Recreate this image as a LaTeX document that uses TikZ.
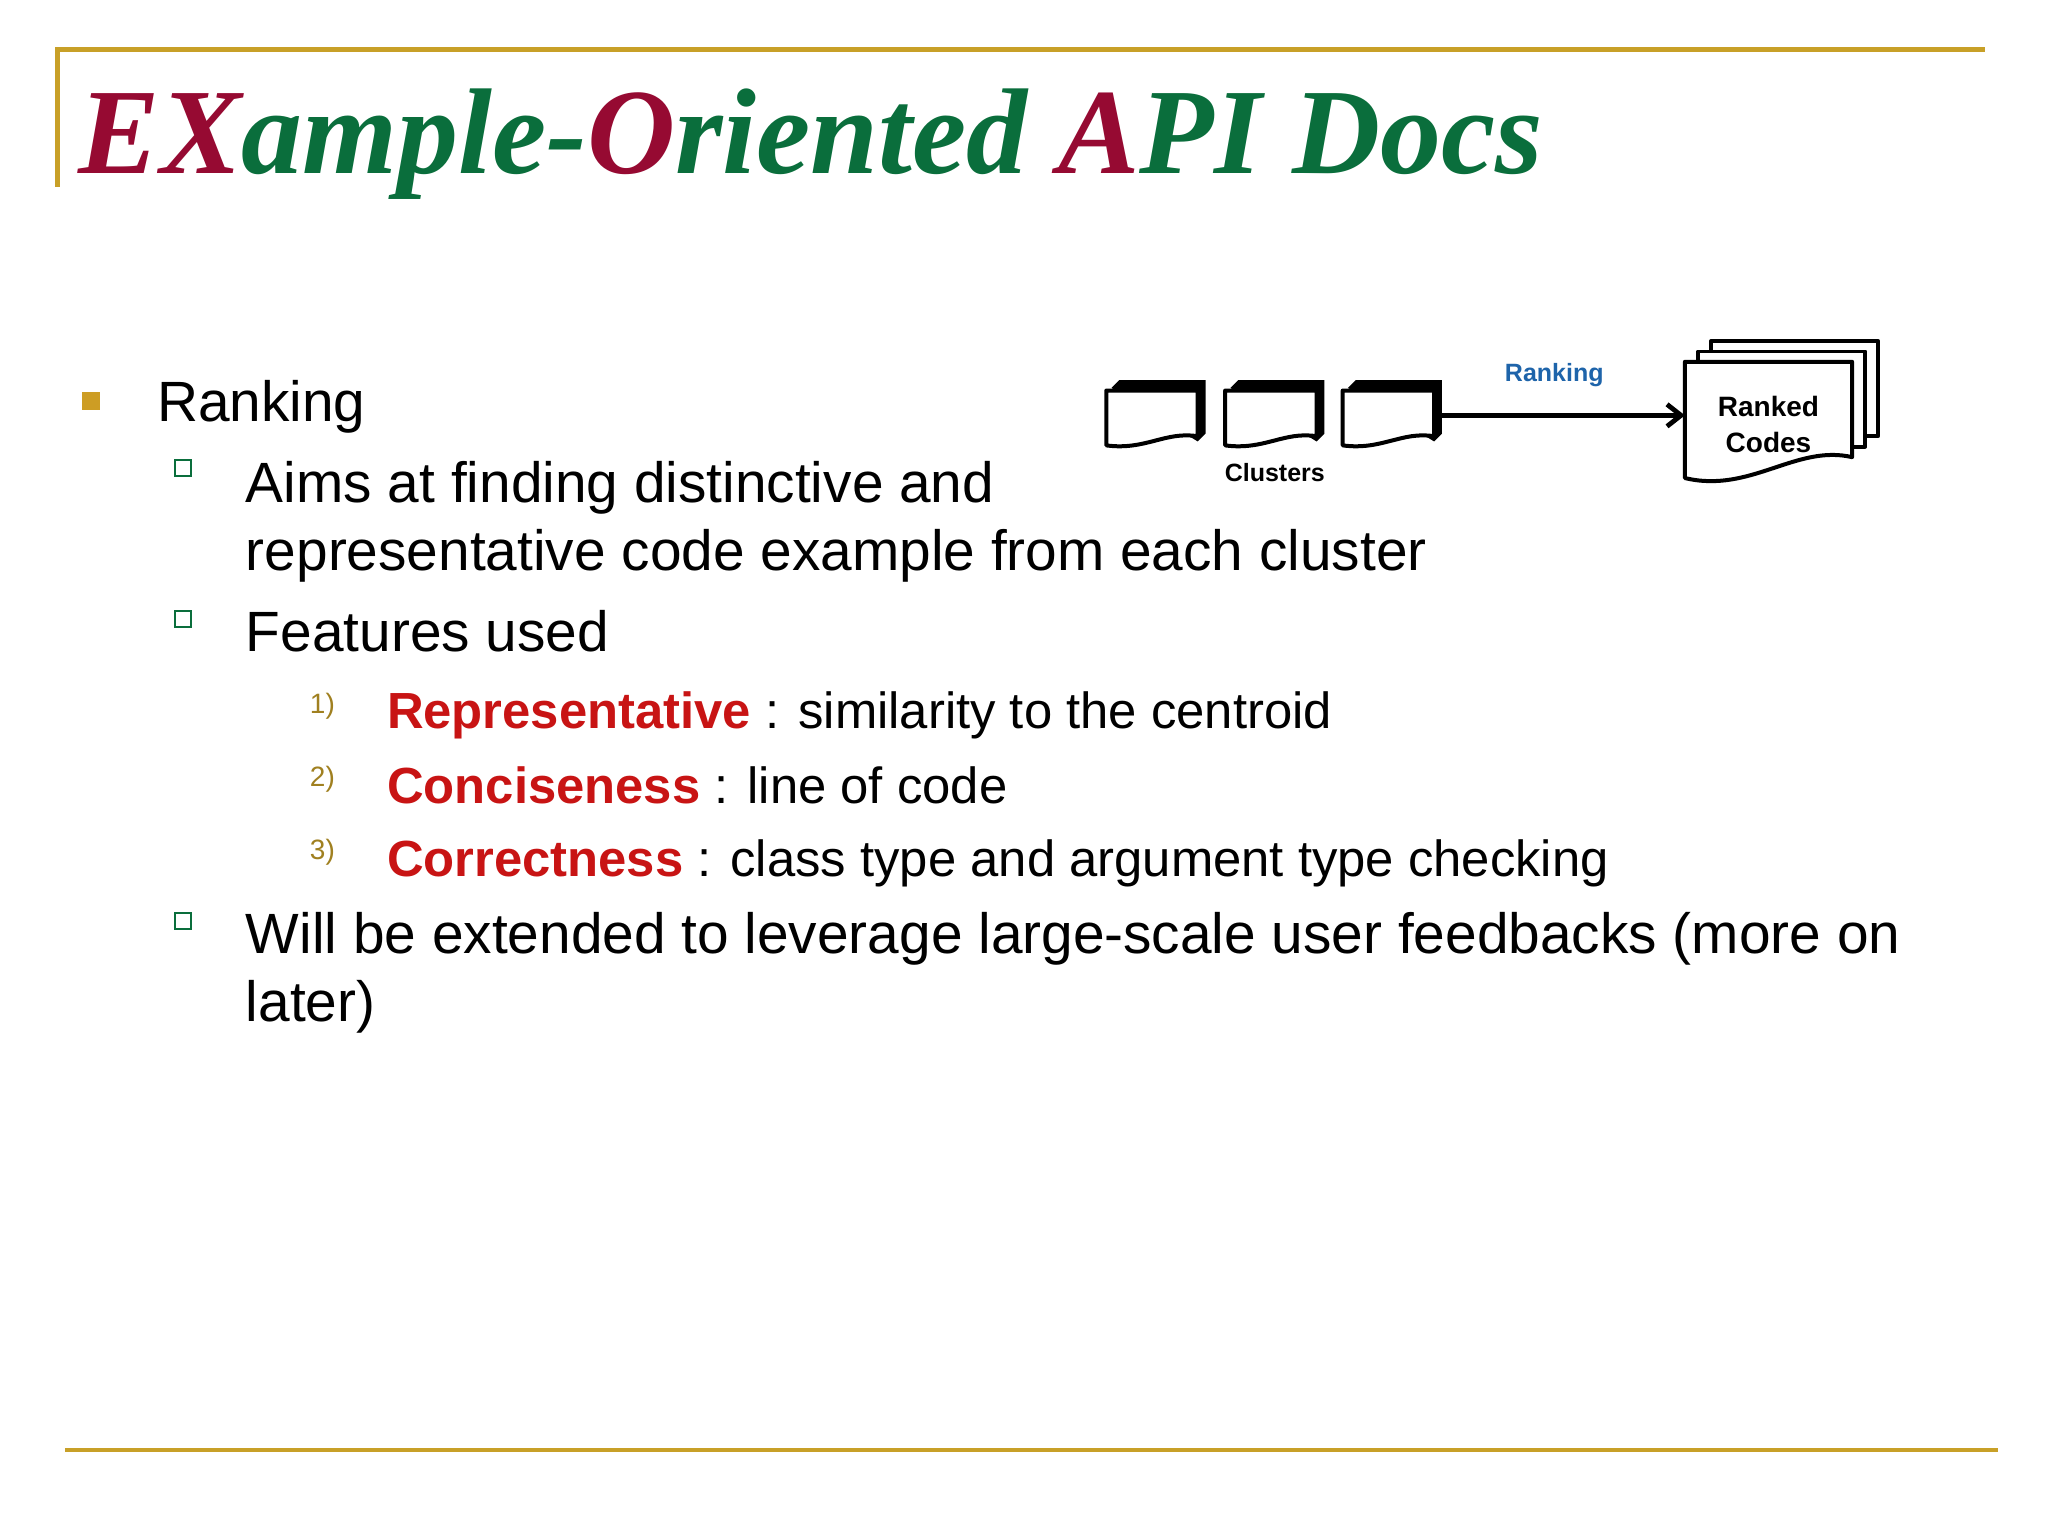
\documentclass[tikz,border=0pt]{standalone}
\usepackage{fontspec}
\setmainfont{Liberation Sans}
\newfontfamily\ttl{Liberation Serif}
\usetikzlibrary{arrows.meta}
\definecolor{gold}{RGB}{200,160,40}
\definecolor{wine}{RGB}{150,10,50}
\definecolor{dgreen}{RGB}{10,110,60}
\definecolor{fred}{RGB}{200,20,20}
\definecolor{rblue}{RGB}{30,100,170}
\begin{document}
\begin{tikzpicture}[x=0.653pt,y=-0.653pt,
  txt/.style={anchor=base west,inner sep=0,font=\fontsize{28.4}{31}\selectfont},
  ftxt/.style={anchor=base west,inner sep=0,font=\fontsize{25.4}{28}\selectfont},
  num/.style={anchor=base west,inner sep=0,font=\fontsize{14}{16}\selectfont,text=gold!80!black},
  hbul/.style={draw=dgreen,fill=white,line width=1pt,minimum size=8pt,inner sep=0},
  doc/.style={draw=black,fill=white,line width=2pt,line join=round}]
\fill[white!97!blue!2] (0,0) rectangle (1568,1176);
\useasboundingbox (0,0) rectangle (1568,1176);
% frame
\draw[gold,line width=2.2pt] (44,143) coordinate (l0) -- (44,38) coordinate (l1) -- (1520,38) coordinate (l2);
\draw[gold,line width=2.2pt] (50,1110) coordinate (b0) -- (1530,1110) coordinate (b1);
% title
\node[anchor=base west,inner sep=0,font=\ttl\bfseries\itshape\fontsize{61}{64}\selectfont] (title) at (60,133)
 {\textcolor{wine}{EX}\textcolor{dgreen}{ample-}\textcolor{wine}{O}\textcolor{dgreen}{riented }\textcolor{wine}{A}\textcolor{dgreen}{PI Docs}};
% bullets
\node[fill=gold!90!orange,minimum size=9pt,inner sep=0] (b1s) at (70,307) {};
\node[txt] (t1) at (120,323) {Ranking};
\node[hbul] (s1) at (140,358) {};
\node[txt] (t2) at (188,385) {Aims at finding distinctive and};
\node[txt] (t3) at (188,437) {representative code example from each cluster};
\node[hbul] (s2) at (140,474) {};
\node[txt] (t4) at (188,499) {Features used};
\node[num] (n1) at (237,546) {1)};
\node[ftxt] (f1) at (296,558) {\textcolor{fred}{\bfseries Representative} : similarity to the centroid};
\node[num] (n2) at (237,602) {2)};
\node[ftxt] (f2) at (296,615) {\textcolor{fred}{\bfseries Conciseness} : line of code};
\node[num] (n3) at (237,658) {3)};
\node[ftxt] (f3) at (296,671) {\textcolor{fred}{\bfseries Correctness} : class type and argument type checking};
\node[hbul] (s3) at (140,705) {};
\node[txt] (t5) at (188,730) {Will be extended to leverage large-scale user feedbacks (more on};
\node[txt] (t6) at (188,782) {later)};
% clusters
\foreach \x/\n in {847/c1,938/c2,1028/c3}{
  \fill[black] (\x+4,297) -- (\x+10,291) -- (\x+76,291) -- (\x+76,332) -- (\x+70,338) -- cycle;
  \draw[doc] (\x,299) -- (\x+70,299) -- (\x+70,334) .. controls (\x+45,330) and (\x+30,345) .. (\x,341) -- cycle;
  \coordinate (\n) at (\x+38,318);
}
\node[inner sep=0,font=\bfseries\fontsize{12.5}{13}\selectfont] (cl) at (976,362) {Clusters};
% ranked codes
\foreach \d in {20,10}{
  \draw[doc,line width=1.8pt] (1290+\d,277-\d*0.8) rectangle (1418+\d,350-\d*0.8);
}
\draw[doc] (1290,277) -- (1418,277) -- (1418,350) .. controls (1375,340) and (1340,378) .. (1290,366) -- cycle;
\node[inner sep=0,align=center,font=\bfseries\fontsize{14}{18}\selectfont] (rc) at (1354,325) {Ranked\\Codes};
\coordinate (rin) at (1290,318);
\draw[line width=2.4pt,-{Straight Barb[length=7pt,width=11pt]}] (1103,318) -- (rin);
\node[inner sep=0,text=rblue,font=\bfseries\fontsize{12.5}{13}\selectfont] (rk) at (1190,287) {Ranking};
\end{tikzpicture}
\end{document}
